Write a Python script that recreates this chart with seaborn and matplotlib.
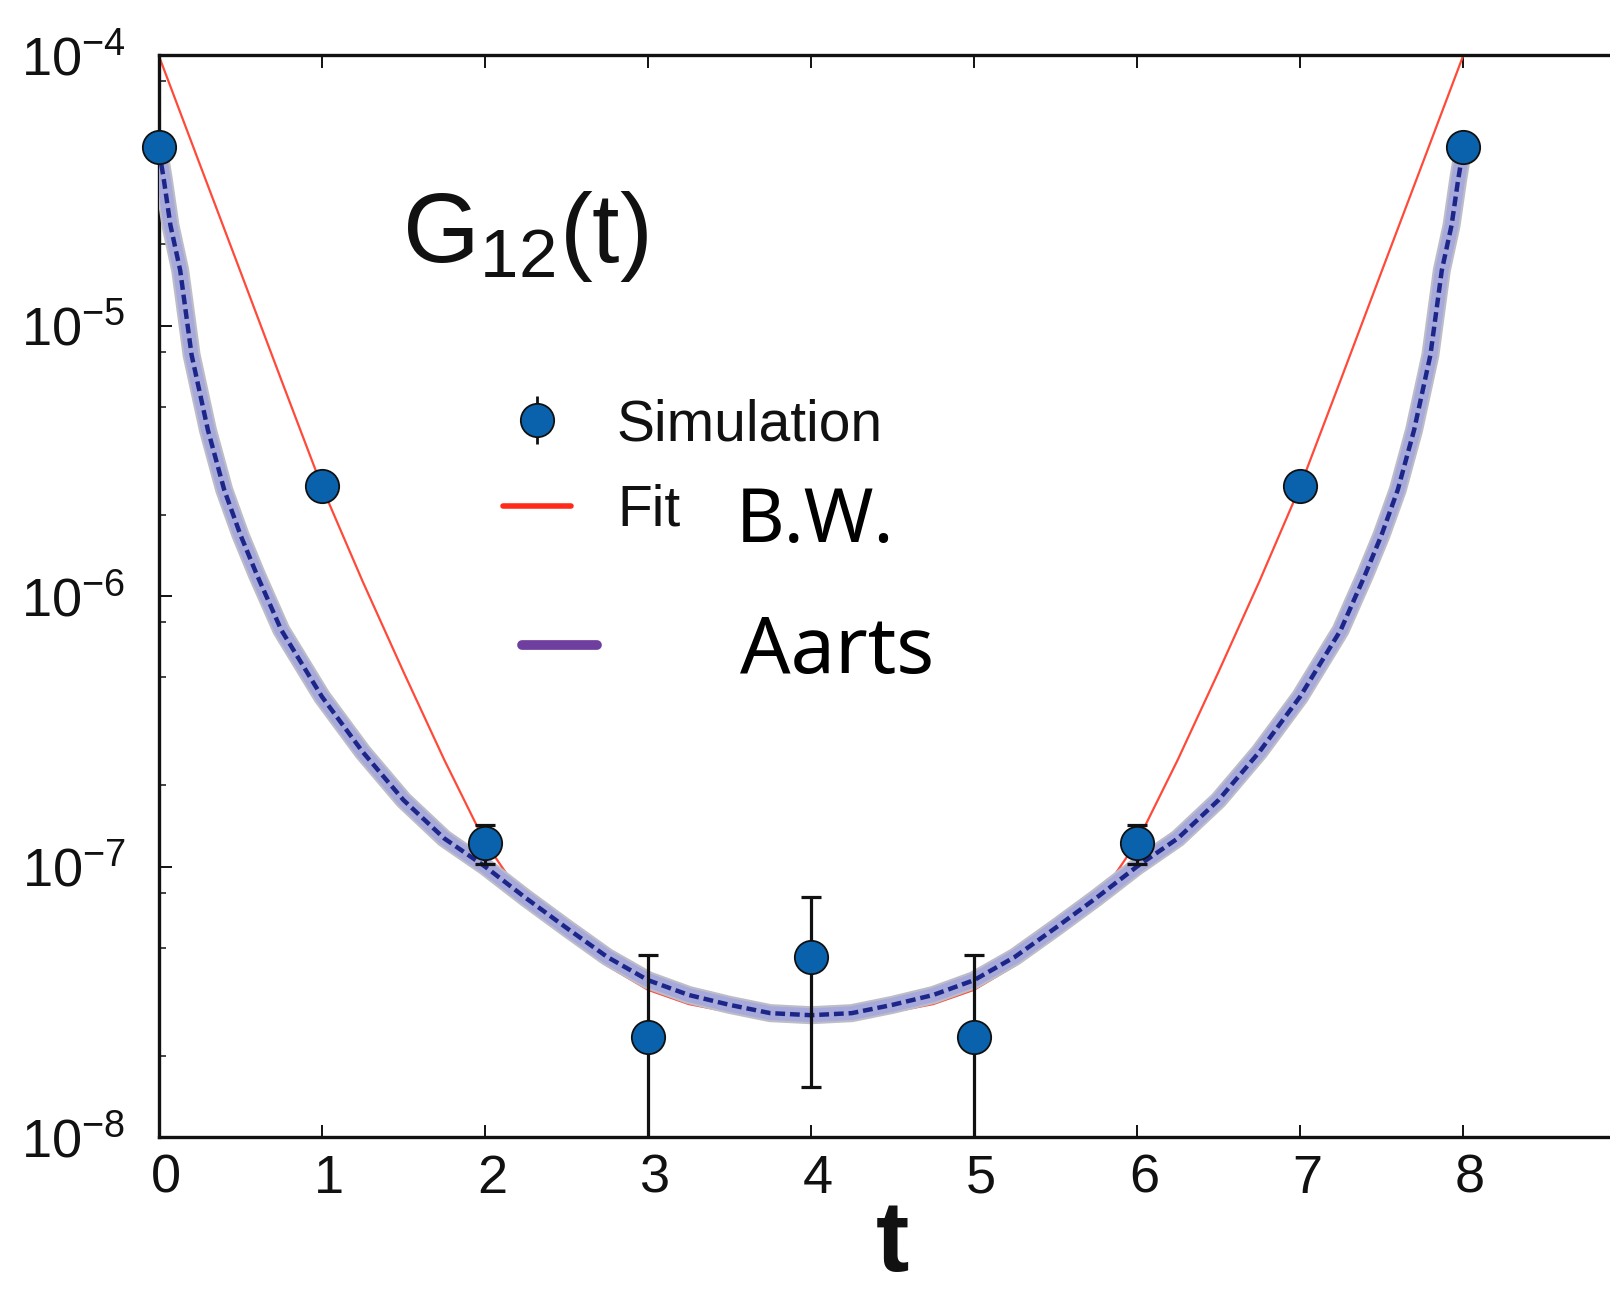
import numpy as np
import pandas as pd
import matplotlib
matplotlib.use("Agg")
import matplotlib.pyplot as plt
import matplotlib.patheffects as pe
import matplotlib.transforms as mtransforms
from matplotlib.lines import Line2D
from matplotlib.ticker import LogLocator, NullFormatter, FixedLocator
import seaborn as sns

# ---------------- data ----------------
t_sim = [0, 1, 2, 3, 4, 5, 6, 7, 8]
g_sim = [4.57e-5, 2.55e-6, 1.22e-7, 2.34e-8, 4.63e-8, 2.34e-8, 1.22e-7, 2.55e-6, 4.57e-5]
g_err = [0.0, 0.0, 2.0e-8, 2.37e-8, 3.1e-8, 2.37e-8, 2.0e-8, 0.0, 0.0]

t_fit = [0, 0.25, 0.5, 0.75, 1, 1.25, 1.5, 1.75, 2, 2.25, 2.5, 2.75, 3, 3.25, 3.5, 3.75, 4,
         4.25, 4.5, 4.75, 5, 5.25, 5.5, 5.75, 6, 6.25, 6.5, 6.75, 7, 7.25, 7.5, 7.75, 8]
g_fit = [9.9e-5, 3.95e-5, 1.58e-5, 6.3e-6, 2.53e-6, 1.13e-6, 5.24e-7, 2.48e-7, 1.23e-7,
         7.4e-8, 5.6e-8, 4.3e-8, 3.5e-8, 3.1e-8, 2.9e-8, 2.78e-8, 2.75e-8,
         2.78e-8, 2.9e-8, 3.1e-8, 3.5e-8, 4.3e-8, 5.6e-8, 7.4e-8, 1.23e-7, 2.48e-7,
         5.24e-7, 1.13e-6, 2.53e-6, 6.3e-6, 1.58e-5, 3.95e-5, 9.9e-5]

t_aarts = [0.0, 0.03, 0.07, 0.13, 0.2, 0.3, 0.4, 0.5, 0.6, 0.75, 1.0, 1.25, 1.5, 1.75,
           2.0, 2.25, 2.5, 2.75, 3.0, 3.25, 3.5, 3.75, 4.0,
           4.25, 4.5, 4.75, 5.0, 5.25, 5.5, 5.75, 6.0, 6.25, 6.5, 6.75, 7.0, 7.25,
           7.4, 7.5, 7.6, 7.7, 7.8, 7.87, 7.93, 7.97, 8.0]
g_aarts = [4.45e-5, 3.45e-5, 2.35e-5, 1.60e-5, 7.78e-6, 4.11e-6, 2.47e-6, 1.68e-6, 1.20e-6,
           7.49e-7, 4.24e-7, 2.65e-7, 1.76e-7, 1.27e-7, 1.00e-7, 7.65e-8, 5.93e-8, 4.63e-8,
           3.80e-8, 3.35e-8, 3.08e-8, 2.87e-8, 2.82e-8,
           2.87e-8, 3.08e-8, 3.35e-8, 3.80e-8, 4.63e-8, 5.93e-8, 7.65e-8, 1.00e-7, 1.27e-7,
           1.76e-7, 2.65e-7, 4.24e-7, 7.49e-7, 1.20e-6, 1.68e-6, 2.47e-6, 4.11e-6, 7.78e-6,
           1.60e-5, 2.35e-5, 3.45e-5, 4.45e-5]

x_ticks = [0, 1, 2, 3, 4, 5, 6, 7, 8]
y_ticks = [1e-8, 1e-7, 1e-6, 1e-5, 1e-4]

df_sim = pd.DataFrame({"t": t_sim, "G": g_sim, "err": g_err})
df_fit = pd.DataFrame({"t": t_fit, "G": g_fit})
df_aarts = pd.DataFrame({"t": t_aarts, "G": g_aarts})

# ---------------- style ----------------
sns.set_theme(style="ticks")
ink = "#111111"
plt.rcParams["font.family"] = ["Liberation Sans", "DejaVu Sans"]
plt.rcParams["mathtext.fontset"] = "custom"
plt.rcParams["mathtext.rm"] = "Liberation Sans"
plt.rcParams["mathtext.it"] = "Liberation Sans:italic"
plt.rcParams["mathtext.bf"] = "Liberation Sans:bold"
plt.rcParams["axes.unicode_minus"] = False
plt.rcParams["text.color"] = ink
plt.rcParams["axes.labelcolor"] = ink
plt.rcParams["xtick.color"] = ink
plt.rcParams["ytick.color"] = ink
plt.rcParams["legend.labelcolor"] = ink

DPI = 100
fig = plt.figure(figsize=(16.10, 12.89), dpi=DPI, facecolor="white")
# axes: left spine at x=159px, top at 55px, bottom at 1137px; x from 0 to 9 (right part cut off)
ax = fig.add_axes([159 / 1610, 152 / 1289, 1467 / 1610, 1082 / 1289])
ax.set_facecolor("white")

blue = "#0a62ad"
red = "#ff4a3a"

# Fit (red)
sns.lineplot(data=df_fit, x="t", y="G", ax=ax, color=red, lw=1.6,
             estimator=None, sort=False, zorder=2)

# Aarts band (halo + dashed navy core)
sns.lineplot(data=df_aarts, x="t", y="G", ax=ax, color="#a6a9da", lw=10,
             estimator=None, sort=False, zorder=3,
             path_effects=[pe.Stroke(linewidth=13, foreground="#bdbdc8"), pe.Normal()])
sns.lineplot(data=df_aarts, x="t", y="G", ax=ax, color="#1c2688", lw=3.2,
             estimator=None, sort=False, zorder=3.5, linestyle=(0, (2.2, 1.1)))

# Simulation points with error bars
eb = ax.errorbar(df_sim["t"], df_sim["G"], yerr=df_sim["err"], fmt="none",
                 ecolor=ink, elinewidth=2.3, capsize=7, capthick=2.3, zorder=4)
sns.scatterplot(data=df_sim, x="t", y="G", ax=ax, s=24 ** 2, color=blue,
                edgecolor=ink, linewidth=1.3, zorder=5, clip_on=False)

# ---------------- axes ----------------
ax.set_yscale("log")
ax.set_xlim(0, 9)
ax.set_ylim(1e-8, 1e-4)
ax.xaxis.set_major_locator(FixedLocator(x_ticks))
ax.set_xticklabels([str(v) for v in x_ticks])
ax.yaxis.set_major_locator(FixedLocator(y_ticks))
ax.set_yticklabels([r"$\mathregular{10^{%d}}$" % int(np.log10(v)) for v in y_ticks])
ax.yaxis.set_minor_locator(LogLocator(base=10, subs=[2, 5, 8]))
ax.yaxis.set_minor_formatter(NullFormatter())

for side in ["left", "top", "bottom"]:
    ax.spines[side].set_linewidth(2.4)
    ax.spines[side].set_color(ink)
ax.spines["right"].set_visible(False)

ax.tick_params(axis="x", which="major", direction="in", length=9, width=1.4,
               top=True, bottom=True, labelsize=39, pad=12, colors=ink)
ax.tick_params(axis="y", which="major", direction="in", length=9, width=1.4,
               left=True, right=False, labelsize=39, pad=24, colors=ink)
ax.tick_params(axis="y", which="minor", direction="in", length=5, width=1.1,
               left=True, right=False, colors=ink)

shift = mtransforms.ScaledTranslation(7 / DPI, 0, fig.dpi_scale_trans)
for tick in ax.xaxis.get_major_ticks():
    tick.label1.set_transform(tick.label1.get_transform() + shift)

ax.set_xlabel("t", fontsize=72, fontweight="bold", labelpad=-4, color=ink)
ax.set_ylabel("")

# ---------------- legend & annotations ----------------
sim_bar = Line2D([], [], marker="|", ms=34, mew=2.0, color=ink, ls="none")
sim_marker = Line2D([], [], marker="o", ms=24, mfc=blue, mec=ink, mew=1.3, ls="none")
fit_proxy = Line2D([], [], color="#ff2a1a", lw=4)
leg1 = ax.legend(handles=[(sim_bar, sim_marker), fit_proxy], labels=["Simulation", "Fit"],
                 loc="center left", bbox_to_anchor=(503 / 1610, 1 - 468 / 1289),
                 bbox_transform=fig.transFigure, frameon=False, fontsize=41,
                 handlelength=1.2, handletextpad=0.8, labelspacing=0.55,
                 borderpad=0, borderaxespad=0)
ax.add_artist(leg1)

aarts_proxy = Line2D([], [], color="#6f3f9f", lw=7)
leg2 = ax.legend(handles=[aarts_proxy], labels=["Aarts"],
                 loc="center left", bbox_to_anchor=(522 / 1610, 1 - 652 / 1289),
                 bbox_transform=fig.transFigure, frameon=False,
                 prop={"family": ["Noto Sans", "DejaVu Sans"], "size": 57},
                 handlelength=0.95, handletextpad=1.8, borderpad=0, borderaxespad=0)
for txt in leg2.get_texts():
    txt.set_color("black")

fig.text(736 / 1610, 1 - 542 / 1289, "B.W.", fontsize=54, va="baseline", ha="left",
         family=["Noto Sans", "DejaVu Sans"], color="black")
fig.text(402 / 1610, 1 - 262 / 1289, r"$\mathregular{G_{12}(t)}$", fontsize=71,
         va="baseline", ha="left", color=ink)

fig.savefig("out.png", dpi=DPI, facecolor="white")
